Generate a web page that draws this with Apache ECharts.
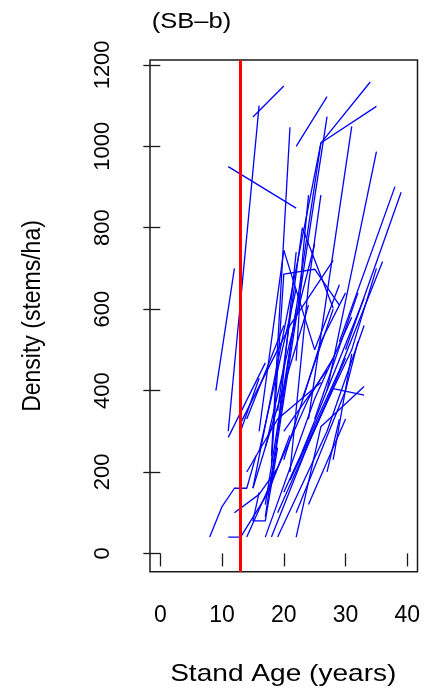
<!DOCTYPE html>
<html>
<head>
<meta charset="utf-8">
<script src="https://cdn.jsdelivr.net/npm/echarts@6/dist/echarts.min.js"></script>
<style>
  html, body { margin: 0; padding: 0; background: #fff; }
  #chart { width: 424px; height: 690px; }
</style>
</head>
<body>
<div id="chart"></div>
<script>
// stand ages (years) at each measurement, one array per stand
var standAges = [
    [9, 12], [11, 22], [15, 20], [11, 16], [11, 17],
    [8, 10, 12, 14, 15.5], [12, 16, 19], [11, 13, 17.5, 21], [16, 15, 17, 19],
    [22, 27], [15, 26, 34], [17, 26, 35], [18, 27], [18, 21],
    [24, 31], [27, 35], [29, 38], [30, 39], [22, 23, 24],
    [18, 20, 25, 29], [16, 20, 25, 29], [19, 23, 28], [27, 29],
    [19, 28, 33], [22, 26, 33], [18, 24, 30], [19, 27, 33],
    [20, 29, 36], [21, 31, 35], [23, 33], [14, 19, 26], [17, 25, 31],
    [25, 32], [22, 30, 32], [20, 27], [14, 24, 28], [24, 30],
    [20, 26, 30], [13, 21, 28], [13, 16], [15, 24], [16, 22],
    [14, 20], [19, 22], [21, 24, 26], [17, 22], [28, 31],
    [17, 21, 25], [23, 28]
];
// density (stems/ha) at the same measurements
var standDensity = [
    [400, 700], [950, 848], [1072, 1148], [300, 1100], [285, 468],
    [40, 115, 160, 160, 240], [100, 145, 210], [40, 40, 150, 290], [150, 80, 80, 260],
    [1000, 1122], [160, 1008, 1158], [90, 1008, 1098], [180, 1073], [240, 1047],
    [330, 1049], [400, 987], [520, 901], [500, 887], [473, 720, 880],
    [220, 686, 698, 610], [300, 745, 500, 660], [350, 800, 602], [200, 330],
    [100, 405, 389], [40, 311, 410], [40, 270, 480], [40, 300, 560],
    [150, 450, 717], [180, 500, 700], [250, 627], [200, 330, 420], [40, 380, 580],
    [330, 640], [100, 400, 520], [300, 450], [40, 380, 480], [120, 330],
    [230, 520, 640], [320, 560, 720], [300, 430], [160, 610], [250, 650],
    [330, 560], [300, 740], [200, 660, 880], [120, 600], [230, 490],
    [260, 520, 760], [380, 600]
];
var harvestAge = 13;
var xTicks = [0, 10, 20, 30, 40];
var yTicks = [0, 200, 400, 600, 800, 1000, 1200];

var myChart = echarts.init(document.getElementById('chart'));

var series = standAges.map(function (ages, i) {
    return {
        type: 'line',
        data: ages.map(function (a, j) { return [a, standDensity[i][j]]; }),
        showSymbol: false,
        symbol: 'none',
        silent: true,
        lineStyle: { color: '#0000ff', width: 1.3 }
    };
});

// red vertical reference line
series.push({
    type: 'line',
    data: [],
    silent: true,
    z: 5,
    markLine: {
        silent: true,
        symbol: 'none',
        label: { show: false },
        lineStyle: { color: '#ff0000', width: 3, type: 'solid' },
        data: [{ xAxis: harvestAge }]
    }
});

var font = 'Liberation Sans, Arial, sans-serif';

var option = {
    animation: false,
    backgroundColor: '#fff',
    grid: {
        left: 150,
        right: 6.5,
        top: 60,
        bottom: 118.3,
        show: true,
        borderColor: '#1a1a1a',
        borderWidth: 1.5,
        backgroundColor: 'transparent'
    },
    xAxis: {
        type: 'value',
        min: -1.67,
        max: 41.65,
        splitLine: { show: false },
        axisLine: { show: false },
        axisTick: {
            show: true,
            customValues: xTicks,
            length: 13,
            lineStyle: { color: '#1a1a1a', width: 1.3 }
        },
        axisLabel: {
            customValues: xTicks,
            margin: 32,
            fontSize: 23,
            fontFamily: font,
            color: '#000',
            formatter: function (v) { return String(v); }
        }
    },
    yAxis: {
        type: 'value',
        min: -45,
        max: 1212,
        splitLine: { show: false },
        axisLine: { show: false },
        axisTick: {
            show: true,
            customValues: yTicks,
            length: 17,
            lineStyle: { color: '#1a1a1a', width: 1.3 }
        },
        axisLabel: {
            customValues: yTicks,
            rotate: 90,
            margin: 36,
            fontSize: 22,
            fontFamily: font,
            color: '#000',
            formatter: function (v) { return String(v); }
        }
    },
    graphic: [
        {
            type: 'text', x: 151.7, y: 22, scaleX: 1.16,
            style: { text: '(SB\u2013b)', fontSize: 22, fontFamily: font, fill: '#000',
                     align: 'left', verticalAlign: 'middle' }
        },
        {
            type: 'text', x: 283.3, y: 674, scaleX: 1.17,
            style: { text: 'Stand Age (years)', fontSize: 24, fontFamily: font, fill: '#000',
                     align: 'center', verticalAlign: 'middle' }
        },
        {
            type: 'text', x: 33, y: 316, rotation: Math.PI / 2, scaleY: 1.15,
            style: { text: 'Density (stems/ha)', fontSize: 23, fontFamily: font, fill: '#000',
                     align: 'center', verticalAlign: 'middle' }
        }
    ],
    series: series
};

myChart.setOption(option);
</script>
</body>
</html>
